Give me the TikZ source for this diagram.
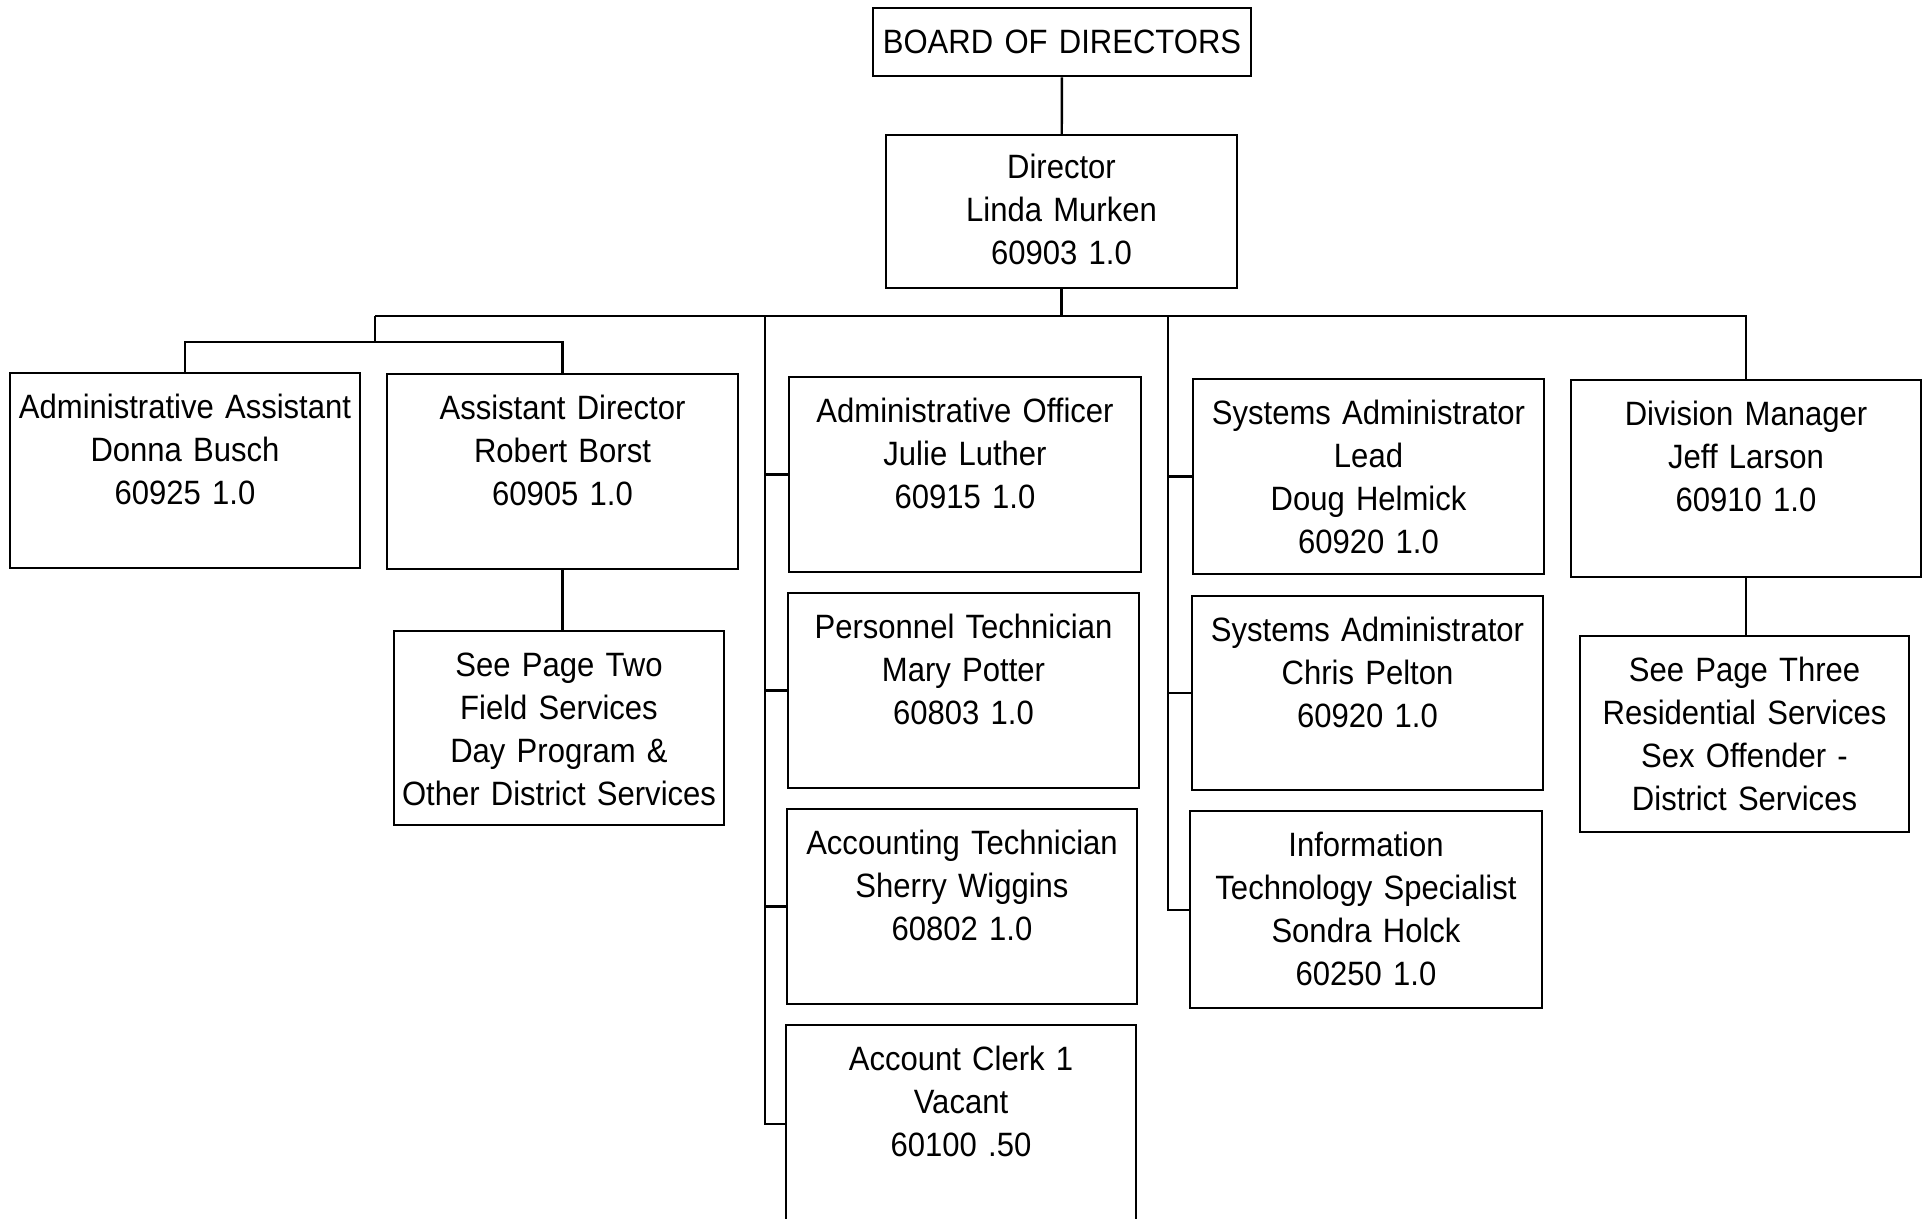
\documentclass[tikz,border=0pt]{standalone}
\usepackage{fontspec}
\setmainfont[FakeStretch=0.92]{Liberation Sans}

\tikzset{
  post/.style={draw, line width=0.7pt, align=center, inner sep=0pt,
    text width=3.5cm, text height=0.45cm, text depth=1.5cm,
    anchor=north, font=\fontsize{9.6}{12.23}\selectfont},
  link/.style={line width=0.7pt}
}

\begin{document}
\begin{tikzpicture}
  \useasboundingbox (0,0) rectangle (19.25,-12.19);

  \node[post, text width=3.78cm, text depth=0.23cm] (board) at (10.62,-0.07) {BOARD OF DIRECTORS};
  \node[post, text width=3.51cm, text height=0.43cm, text depth=1.1cm] (dir) at (10.615,-1.34) {Director\\Linda Murken\\60903 1.0};

  \node[post] (aa) at (1.85,-3.72) {Administrative Assistant\\Donna Busch\\60925 1.0};
  \node[post, text width=3.51cm] (ad) at (5.625,-3.73) {Assistant Director\\Robert Borst\\60905 1.0};
  \node[post, text width=3.3cm, text depth=1.49cm] (pg2) at (5.59,-6.3) {See Page Two\\Field Services\\Day Program \&\\Other District Services};

  \node[post, text width=3.52cm] (ao) at (9.65,-3.76) {Administrative Officer\\Julie Luther\\60915 1.0};
  \node[post, text width=3.51cm] (pt) at (9.635,-5.92) {Personnel Technician\\Mary Potter\\60803 1.0};
  \node[post] (at) at (9.62,-8.08) {Accounting Technician\\Sherry Wiggins\\60802 1.0};
  \node[post, text depth=1.53cm] (ac) at (9.61,-10.24) {Account Clerk 1\\Vacant\\60100 .50};

  \node[post, text width=3.51cm] (sal) at (13.685,-3.78) {Systems Administrator\\Lead\\Doug Helmick\\60920 1.0};
  \node[post, text width=3.51cm, text depth=1.49cm] (sac) at (13.675,-5.95) {Systems Administrator\\Chris Pelton\\60920 1.0};
  \node[post, text width=3.52cm, text depth=1.52cm] (its) at (13.66,-8.1) {Information\\Technology Specialist\\Sondra Holck\\60250 1.0};

  \node[post, text depth=1.52cm] (dm) at (17.46,-3.79) {Division Manager\\Jeff Larson\\60910 1.0};
  \node[post, text width=3.29cm, text depth=1.51cm] (pg3) at (17.445,-6.35) {See Page Three\\Residential Services\\Sex Offender -\\District Services};

  \coordinate (bus) at (3.75,-3.16);
  \coordinate (sub) at (3.75,-3.42);
  \coordinate (c1) at (7.65,-3.16);
  \coordinate (c2) at (11.68,-3.16);

  \draw[link] (board) -- (dir);
  \draw[link] (dir) -- (dir |- bus);
  \draw[link] (bus) -| (dm.north);
  \draw[link] (bus) -- (sub);
  \draw[link] (aa.north) |- (sub) -| (ad.north);
  \draw[link] (ad.south) -- (ad.south |- pg2.north);
  \draw[link] (dm.south) -- (dm.south |- pg3.north);

  \draw[link] (c1) |- (ac.west);
  \foreach \n in {ao,pt,at}
    \draw[link] (\n.west) -- (\n.west -| c1);
  \draw[link] (c2) |- (its.west);
  \foreach \n in {sal,sac}
    \draw[link] (\n.west) -- (\n.west -| c2);
\end{tikzpicture}
\end{document}
